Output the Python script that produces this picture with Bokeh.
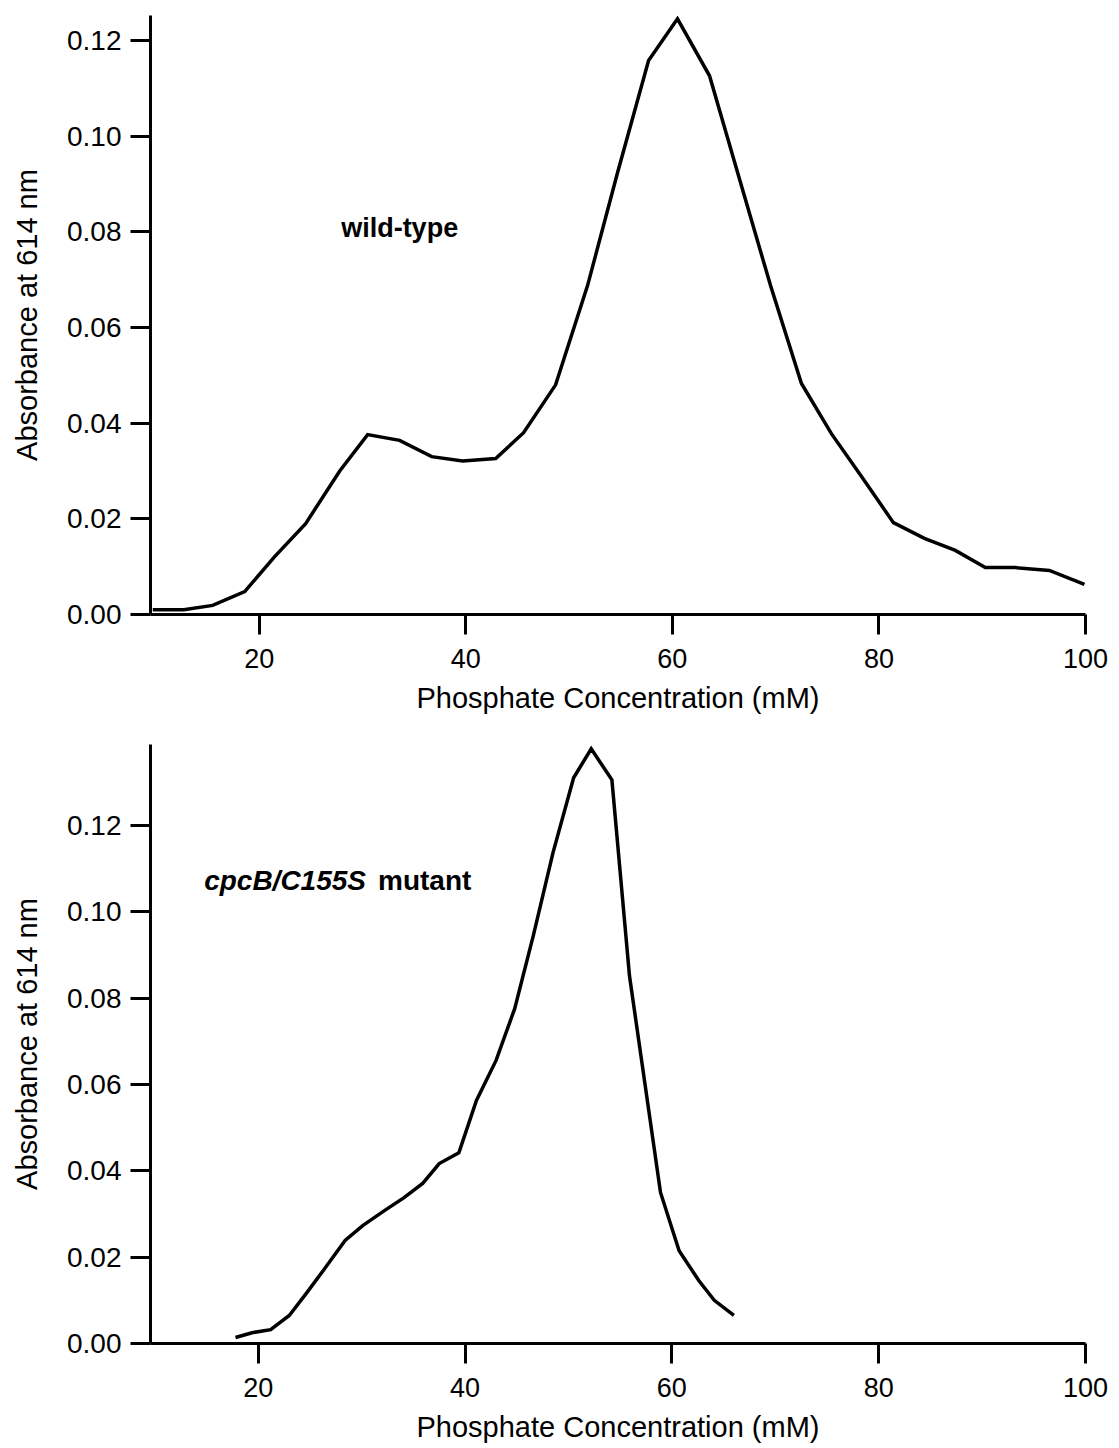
from bokeh.plotting import figure
from bokeh.layouts import column
from bokeh.models import Range1d, FixedTicker, NumeralTickFormatter, Label
from bokeh.embed import file_html
from bokeh.resources import INLINE

# ---- data ----
wt_conc = [9.7, 12.7, 15.5, 18.6, 21.5, 24.5, 27.8, 30.5, 33.6, 36.7, 39.7, 42.9,
           45.6, 48.7, 51.8, 54.7, 57.7, 60.5, 63.6, 66.6, 69.5, 72.5, 75.4, 78.4,
           81.4, 84.4, 87.4, 90.3, 93.2, 96.5, 99.9]
wt_abs = [0.0010, 0.0010, 0.0019, 0.0048, 0.0121, 0.0190, 0.0300, 0.0376, 0.0364,
          0.0330, 0.0321, 0.0326, 0.0380, 0.0480, 0.0688, 0.0924, 0.1158, 0.1245,
          0.1126, 0.0903, 0.0688, 0.0483, 0.0378, 0.0286, 0.0192, 0.0159, 0.0134,
          0.0098, 0.0098, 0.0092, 0.0063]

mut_conc = [17.8, 19.4, 21.2, 23.0, 24.7, 26.5, 28.4, 30.1, 32.2, 34.1, 35.9, 37.5,
            39.4, 41.1, 43.0, 44.8, 46.6, 48.5, 50.5, 52.2, 54.2, 55.9, 57.7, 58.9,
            60.7, 62.6, 64.1, 66.0]
mut_abs = [0.0014, 0.0025, 0.0032, 0.0065, 0.0118, 0.0176, 0.0239, 0.0273, 0.0308,
           0.0338, 0.0371, 0.0417, 0.0442, 0.0563, 0.0656, 0.0776, 0.0945, 0.1137,
           0.1311, 0.1378, 0.1306, 0.0852, 0.0551, 0.0350, 0.0215, 0.0146, 0.0100,
           0.0065]

x_ticks = [20, 40, 60, 80, 100]
y_ticks = [0.00, 0.02, 0.04, 0.06, 0.08, 0.10, 0.12]
x_label = "Phosphate Concentration (mM)"
y_label = "Absorbance at 614 nm"

FONT = "Liberation Sans"


def make_fig(h, x0, y1, bl, br, bt, bb):
    p = figure(width=1119, height=h, output_backend="svg", toolbar_location=None,
               x_range=Range1d(x0, 100), y_range=Range1d(0, y1),
               min_border_left=bl, min_border_right=br,
               min_border_top=bt, min_border_bottom=bb)
    p.outline_line_color = None
    p.xgrid.visible = False
    p.ygrid.visible = False
    p.background_fill_color = "white"
    p.border_fill_color = "white"
    for ax in (p.xaxis[0], p.yaxis[0]):
        ax.axis_line_width = 3
        ax.axis_line_color = "black"
        ax.major_tick_line_width = 3
        ax.major_tick_line_color = "black"
        ax.major_tick_out = 20
        ax.major_tick_in = 0
        ax.minor_tick_line_color = None
        ax.major_label_text_font = FONT
        ax.major_label_text_color = "black"
        ax.axis_label_text_font = FONT
        ax.axis_label_text_font_style = "normal"
        ax.axis_label_text_color = "black"
        ax.axis_label_text_font_size = "29px"
    p.xaxis[0].ticker = FixedTicker(ticks=x_ticks)
    p.xaxis[0].formatter = NumeralTickFormatter(format="0")
    p.xaxis[0].major_label_text_font_size = "27px"
    p.xaxis[0].major_label_standoff = 14
    p.xaxis[0].axis_label = x_label
    p.xaxis[0].axis_label_standoff = 11
    p.yaxis[0].ticker = FixedTicker(ticks=y_ticks)
    p.yaxis[0].formatter = NumeralTickFormatter(format="0.00")
    p.yaxis[0].major_label_text_font_size = "28px"
    p.yaxis[0].major_label_standoff = 9
    p.yaxis[0].axis_label = y_label
    p.yaxis[0].axis_label_standoff = 21
    return p


p1 = make_fig(728, 9.48, 0.1252, 150, 31, 15, 114)
p1.line(wt_conc, wt_abs, line_width=3.5, line_color="black", line_join="miter")
p1.add_layout(Label(x=33.6, y=0.0807, text="wild-type", text_font=FONT,
                    text_font_style="bold", text_font_size="27px",
                    text_align="center", text_baseline="middle", text_color="black"))

p2 = make_fig(720, 9.58, 0.1388, 148, 34, 16, 105)
p2.line(mut_conc, mut_abs, line_width=3.5, line_color="black", line_join="miter")
p2.add_layout(Label(x=31.0, y=0.1072, text="cpcB/C155S", text_font=FONT,
                    text_font_style="bold italic", text_font_size="28px",
                    text_align="right", text_baseline="middle", x_offset=-6,
                    text_color="black"))
p2.add_layout(Label(x=31.0, y=0.1072, text="mutant", text_font=FONT,
                    text_font_style="bold", text_font_size="28px",
                    text_align="left", text_baseline="middle", x_offset=6,
                    text_color="black"))

layout = column(p1, p2, spacing=0)
open("out.html", "w").write(file_html(layout, INLINE))
